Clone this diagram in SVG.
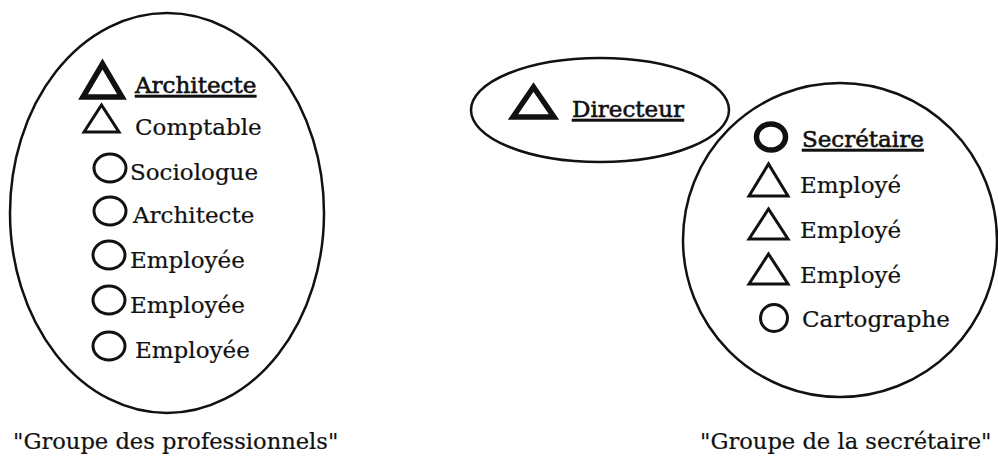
<svg xmlns="http://www.w3.org/2000/svg" width="998" height="458" viewBox="0 0 998 458">
<style>
text{font-family:"DejaVu Serif","Liberation Serif",serif;font-size:23px;fill:#111;stroke:#111;stroke-width:0.2}
.lead{text-decoration:underline;stroke-width:0.6}
.grp{fill:none;stroke:#111;stroke-width:2.5}
.tri{fill:none;stroke:#111;stroke-width:3;stroke-linejoin:miter}
.triB{fill:none;stroke:#111;stroke-width:5.5;stroke-linejoin:miter}
.cir{fill:none;stroke:#111;stroke-width:3}
.cirB{fill:none;stroke:#111;stroke-width:5.5}
.cap{font-size:22.6px}
</style>
<rect width="998" height="458" fill="#fff"/>
<g id="groupe-professionnels">
<ellipse class="grp" cx="167" cy="213" rx="157" ry="200"/>
<g id="p1"><polygon class="triB" points="83,97 102.5,64 122,97"/><text class="lead" x="135" y="93">Architecte</text></g>
<g id="p2"><polygon class="tri" points="84,132 101.5,105 119,132"/><text x="135" y="135">Comptable</text></g>
<g id="p3"><ellipse class="cir" cx="110" cy="168" rx="16" ry="14"/><text x="130" y="180">Sociologue</text></g>
<g id="p4"><ellipse class="cir" cx="110" cy="211" rx="16" ry="14"/><text x="133" y="223">Architecte</text></g>
<g id="p5"><ellipse class="cir" cx="109" cy="255" rx="16" ry="14"/><text x="130" y="268">Employée</text></g>
<g id="p6"><ellipse class="cir" cx="109" cy="300" rx="16" ry="14"/><text x="130" y="313">Employée</text></g>
<g id="p7"><ellipse class="cir" cx="109" cy="346" rx="16" ry="14"/><text x="135" y="358">Employée</text></g>
<text class="cap" x="13" y="449">"Groupe des professionnels"</text>
</g>
<g id="groupe-directeur">
<ellipse class="grp" cx="600" cy="110" rx="129" ry="52"/>
<g id="d1"><polygon class="triB" points="513,117 533.5,87 554,117"/><text class="lead" x="572" y="117">Directeur</text></g>
</g>
<g id="groupe-secretaire">
<circle class="grp" cx="840" cy="240" r="157"/>
<g id="s1"><ellipse class="cirB" cx="771" cy="137" rx="14.5" ry="13"/><text class="lead" x="802" y="147">Secrétaire</text></g>
<g id="s2"><polygon class="tri" points="749,196 768.5,164 788,196"/><text x="800" y="193">Employé</text></g>
<g id="s3"><polygon class="tri" points="749,239 768.5,209 788,239"/><text x="800" y="238">Employé</text></g>
<g id="s4"><polygon class="tri" points="749,284 768.5,254 788,284"/><text x="800" y="283">Employé</text></g>
<g id="s5"><ellipse class="cir" cx="774" cy="318" rx="13.5" ry="13.5"/><text x="802" y="327">Cartographe</text></g>
<text class="cap" x="700" y="449">"Groupe de la secrétaire"</text>
</g>
<g id="connectors"/>
</svg>
